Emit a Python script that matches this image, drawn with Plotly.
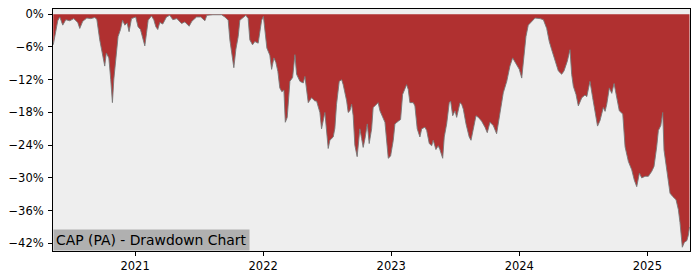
import plotly.graph_objects as go

# decimal-year positions of the observations
years = [
    2020.361, 2020.380, 2020.396, 2020.412, 2020.435, 2020.459, 2020.490, 2020.521,
    2020.552, 2020.568, 2020.591, 2020.623, 2020.654, 2020.685, 2020.701, 2020.724,
    2020.748, 2020.763, 2020.775, 2020.795, 2020.810, 2020.823, 2020.834, 2020.855,
    2020.867, 2020.886, 2020.902, 2020.920, 2020.938, 2020.953, 2020.972, 2021.005,
    2021.023, 2021.042, 2021.063, 2021.076, 2021.089, 2021.102, 2021.128, 2021.146,
    2021.162, 2021.177, 2021.193, 2021.216, 2021.245, 2021.271, 2021.295, 2021.326,
    2021.363, 2021.388, 2021.422, 2021.443, 2021.480, 2021.513, 2021.545, 2021.560,
    2021.607, 2021.675, 2021.701, 2021.727, 2021.740, 2021.753, 2021.771, 2021.787,
    2021.805, 2021.818, 2021.844, 2021.865, 2021.883, 2021.896, 2021.917, 2021.935,
    2021.961, 2021.974, 2021.988, 2022.002, 2022.017, 2022.029, 2022.052, 2022.066,
    2022.084, 2022.099, 2022.115, 2022.130, 2022.146, 2022.162, 2022.173, 2022.188,
    2022.209, 2022.230, 2022.248, 2022.261, 2022.287, 2022.313, 2022.326, 2022.352,
    2022.378, 2022.404, 2022.417, 2022.443, 2022.456, 2022.482, 2022.508, 2022.521,
    2022.547, 2022.560, 2022.573, 2022.594, 2022.613, 2022.625, 2022.652, 2022.664,
    2022.677, 2022.691, 2022.703, 2022.716, 2022.734, 2022.755, 2022.769, 2022.781,
    2022.795, 2022.813, 2022.828, 2022.847, 2022.859, 2022.886, 2022.898, 2022.912,
    2022.938, 2022.951, 2022.977, 2022.995, 2023.016, 2023.029, 2023.055, 2023.073,
    2023.089, 2023.099, 2023.120, 2023.133, 2023.146, 2023.172, 2023.185, 2023.203,
    2023.224, 2023.238, 2023.263, 2023.277, 2023.297, 2023.316, 2023.328, 2023.349,
    2023.367, 2023.380, 2023.402, 2023.414, 2023.433, 2023.453, 2023.464, 2023.480,
    2023.498, 2023.511, 2023.537, 2023.550, 2023.563, 2023.584, 2023.609, 2023.623,
    2023.641, 2023.662, 2023.680, 2023.706, 2023.732, 2023.750, 2023.771, 2023.797,
    2023.823, 2023.849, 2023.875, 2023.902, 2023.927, 2023.948, 2023.974, 2024.000,
    2024.019, 2024.031, 2024.052, 2024.070, 2024.097, 2024.123, 2024.162, 2024.188,
    2024.214, 2024.234, 2024.253, 2024.279, 2024.305, 2024.331, 2024.349, 2024.375,
    2024.396, 2024.409, 2024.422, 2024.443, 2024.461, 2024.488, 2024.513, 2024.527,
    2024.552, 2024.573, 2024.599, 2024.611, 2024.630, 2024.656, 2024.670, 2024.683,
    2024.703, 2024.722, 2024.740, 2024.761, 2024.781, 2024.808, 2024.826, 2024.852,
    2024.878, 2024.898, 2024.917, 2024.938, 2024.956, 2024.982, 2025.008, 2025.034,
    2025.052, 2025.073, 2025.086, 2025.105, 2025.120, 2025.130, 2025.146, 2025.164,
    2025.177, 2025.198, 2025.224, 2025.242, 2025.255, 2025.273, 2025.289, 2025.308,
    2025.320, 2025.329,
]

# drawdown from running peak, in percent
drawdown = [
    -5.6, -3.0, -1.2, -0.5, -2.0, -1.0, -1.2, -0.8,
    -1.5, -2.6, -1.3, -0.7, -0.8, -0.6, -0.9, -4.7,
    -7.7, -9.5, -7.1, -8.0, -12.0, -16.2, -11.9, -5.9,
    -4.1, -2.8, -1.1, -2.0, -1.6, -3.2, -0.8, -0.5,
    -2.3, -2.8, -4.4, -5.8, -3.5, -1.1, -0.3, -1.0,
    -2.3, -2.8, -1.5, -1.8, -0.5, -0.2, -1.0, -0.8,
    -1.7, -1.4, -2.2, -1.3, -0.5, -0.5, -1.2, -0.2,
    -0.1, -0.1, -0.5, -1.1, -4.7, -7.1, -9.8, -6.4,
    -4.1, -1.1, -0.5, -0.2, -0.8, -4.7, -5.6, -5.0,
    -5.3, -3.0, -1.1, -0.4, -3.5, -6.2, -7.5, -10.1,
    -8.0, -8.8, -10.5, -13.5, -14.2, -13.9, -19.8, -18.9,
    -12.3, -11.6, -7.4, -11.0, -12.3, -12.6, -11.4, -16.2,
    -15.3, -15.9, -15.9, -18.0, -21.0, -18.0, -24.6, -23.1,
    -22.5, -20.9, -16.5, -12.3, -12.0, -12.9, -15.9, -18.0,
    -17.7, -16.5, -18.6, -24.0, -26.1, -21.0, -22.8, -24.4,
    -22.8, -20.1, -23.7, -21.0, -17.1, -16.5, -16.2, -17.7,
    -19.3, -19.8, -26.4, -26.0, -23.1, -20.1, -19.6, -19.3,
    -14.7, -14.1, -12.9, -13.8, -16.2, -16.2, -16.8, -21.0,
    -22.5, -21.0, -20.7, -21.3, -23.7, -24.1, -23.1, -24.8,
    -24.1, -24.8, -26.4, -22.5, -20.1, -16.2, -15.9, -18.6,
    -17.7, -18.9, -16.2, -16.5, -17.4, -20.1, -22.5, -23.1,
    -20.7, -18.6, -18.9, -19.6, -20.7, -21.7, -19.8, -20.4,
    -21.9, -18.0, -14.4, -12.3, -9.5, -8.0, -9.2, -10.1,
    -11.7, -8.5, -4.1, -2.0, -1.4, -0.7, -0.8, -1.0,
    -2.6, -5.0, -6.5, -8.3, -10.4, -11.0, -10.4, -8.6,
    -6.5, -11.0, -13.2, -14.7, -16.8, -15.3, -14.8, -15.1,
    -12.3, -15.3, -19.5, -20.5, -19.5, -17.1, -17.8, -16.5,
    -13.5, -14.5, -12.7, -15.3, -17.7, -18.3, -24.3, -27.0,
    -28.5, -30.4, -31.6, -29.1, -30.0, -29.7, -29.7, -28.8,
    -27.9, -24.3, -21.3, -20.4, -18.0, -24.9, -27.9, -31.0,
    -32.8, -33.4, -34.0, -35.8, -38.2, -42.7, -41.8, -41.5,
    -40.5, -39.0,
]

x_ticks = [2021, 2022, 2023, 2024, 2025]
x_tick_labels = ["2021", "2022", "2023", "2024", "2025"]
y_ticks = [0, -6, -12, -18, -24, -30, -36, -42]
y_tick_labels = ["0%", "\u22126%", "\u221212%", "\u221218%", "\u221224%",
                 "\u221230%", "\u221236%", "\u221242%"]
label_text = "CAP (PA) - Drawdown Chart"

fig = go.Figure()
fig.add_trace(go.Scatter(
    x=years, y=drawdown, mode="lines",
    fill="tozeroy", fillcolor="#b03030",
    line=dict(color="rgba(120,120,120,0.9)", width=1),
    hoverinfo="skip", showlegend=False,
))

fig.update_layout(
    width=700, height=280,
    margin=dict(l=53, r=10, t=7, b=28),
    paper_bgcolor="white",
    plot_bgcolor="#eeeeee",
    font=dict(family="DejaVu Sans", size=11.5, color="black"),
    showlegend=False,
    xaxis=dict(
        range=[2020.359, 2025.333],
        tickvals=x_ticks, ticktext=x_tick_labels,
        showgrid=False, zeroline=False,
        showline=True, linecolor="black", linewidth=1, mirror=True,
        ticks="outside", ticklen=4, tickcolor="black",
    ),
    yaxis=dict(
        range=[-43.39, 0.96],
        tickvals=y_ticks, ticktext=y_tick_labels,
        showgrid=False, zeroline=False,
        showline=True, linecolor="black", linewidth=1, mirror=True,
        ticks="outside", ticklen=4, tickcolor="black",
        ticklabelstandoff=2,
    ),
    annotations=[dict(
        text=label_text, xref="paper", yref="paper", x=0, y=0,
        xanchor="left", yanchor="bottom", showarrow=False,
        font=dict(family="DejaVu Sans", size=13.9, color="black"),
        bgcolor="#b0b0b0", borderpad=2,
    )],
)

fig.write_html("out.html")
